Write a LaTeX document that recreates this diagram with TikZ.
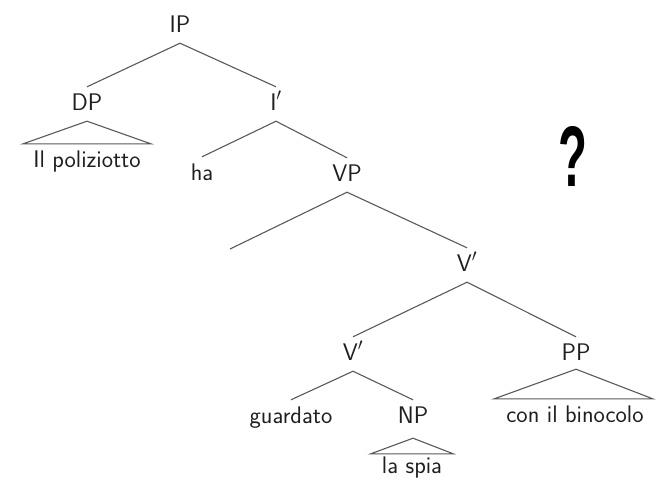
\documentclass[tikz,border=0pt]{standalone}
\usepackage{fontspec}
\newfontfamily\qmarkfont[FakeStretch=0.55]{Liberation Sans Bold}
\begin{document}
\begin{tikzpicture}[x=1pt,y=-1pt,
  lab/.style={anchor=base, inner sep=0pt, text height=23pt, text depth=11pt,
    text=black!88, font=\fontsize{24}{28}\selectfont\sffamily},
  br/.style={draw=black!65, line width=1.1pt}]
\useasboundingbox (0,0) rectangle (660,480);
% nodes
\node[lab] (ip)  at (180,32)  {IP};
\node[lab] (dp)  at (87,110)  {DP};
\node[lab] (ib)  at (276,110) {I$'$};
\node[lab] (pol) at (87,167)  {Il poliziotto};
\node[lab] (ha)  at (202,180) {ha};
\node[lab] (vp)  at (347,181) {VP};
\coordinate (spec) at (230,249);
\node[lab] (vb1) at (467,271) {V$'$};
\node[lab] (vb2) at (353,360) {V$'$};
\node[lab, text depth=9pt] (pp)  at (576,360) {PP};
\node[lab] (gu)  at (291,423) {guardato};
\node[lab, text depth=15pt] (np)  at (413,423) {NP};
\node[lab] (bin) at (575,422) {con il binocolo};
\node[lab, text height=19pt] (spia) at (412,473) {la spia};
\node[font=\fontsize{86}{90}\selectfont\qmarkfont, inner sep=0pt, anchor=base] (q) at (573,186) {?};
% branches
\draw[br] (ip.south) -- (dp.north);
\draw[br] (ip.south) -- (ib.north);
\draw[br] (ib.south) -- (ha.north);
\draw[br] (ib.south) -- (vp.north);
\draw[br] (vp.south) -- (spec);
\draw[br] (vp.south) -- (vb1.north);
\draw[br] (vb1.south) -- (vb2.north);
\draw[br] (vb1.south) -- (pp.north);
\draw[br] (vb2.south) -- (gu.north);
\draw[br] (vb2.south) -- (np.north);
% triangles
\draw[br] (dp.south) -- ([xshift=-10pt]pol.north west) -- ([xshift=10pt]pol.north east) -- cycle;
\draw[br] (pp.south) -- ([xshift=-12pt]bin.north west) -- ([xshift=9pt]bin.north east) -- cycle;
\draw[br] (np.south) -- ([xshift=-11pt]spia.north west) -- ([xshift=11pt]spia.north east) -- cycle;
\end{tikzpicture}
\end{document}
